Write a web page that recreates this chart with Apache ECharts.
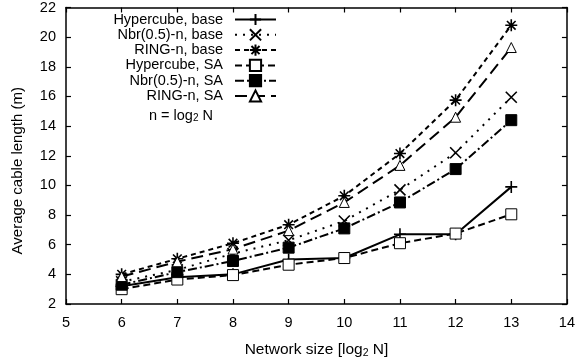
<!DOCTYPE html>
<html>
<head>
<meta charset="utf-8">
<script src="https://cdn.jsdelivr.net/npm/echarts@6/dist/echarts.min.js"></script>
<style>
html,body{margin:0;padding:0;background:#fff;}
#chart{width:578px;height:364px;}
</style>
</head>
<body>
<div id="chart"></div>
<script>
// ---- data ----
var networkSize = [6, 7, 8, 9, 10, 11, 12, 13];
var hypercubeBase = [3.2, 3.8, 4.0, 5.0, 5.1, 6.7, 6.7, 9.9];
var nbrBase = [3.5, 4.3, 5.4, 6.3, 7.6, 9.7, 12.2, 15.95];
var ringBase = [4.0, 5.05, 6.1, 7.35, 9.3, 12.15, 15.75, 20.8];
var hypercubeSA = [3.0, 3.65, 3.95, 4.65, 5.1, 6.1, 6.75, 8.05];
var nbrSA = [3.3, 4.15, 4.9, 5.8, 7.1, 8.85, 11.1, 14.4];
var ringSA = [3.85, 4.85, 5.7, 6.95, 8.85, 11.35, 14.6, 19.3];
var seriesNames = ['Hypercube, base', 'Nbr(0.5)-n, base', 'RING-n, base', 'Hypercube, SA', 'Nbr(0.5)-n, SA', 'RING-n, SA'];

function pairs(ys) { return networkSize.map(function (x, i) { return [x, ys[i]]; }); }

var FONT = 'Liberation Sans';
var PLUS = 'path://M0,-5L0,5M-5,0L5,0';
var CROSS = 'path://M-5,-5L5,5M-5,5L5,-5';
var STAR = 'path://M0,-5L0,5M-5,0L5,0M-3.6,-3.6L3.6,3.6M-3.6,3.6L3.6,-3.6';

function mk(name, ys, symbol, size, dash, fill, bw) {
  return {
    name: name, type: 'line', data: pairs(ys), xAxisIndex: 0, yAxisIndex: 0,
    symbol: symbol, symbolSize: size, showSymbol: true,
    lineStyle: { color: '#000', width: 2, type: dash },
    itemStyle: { color: fill, borderColor: '#000', borderWidth: bw },
    emphasis: { disabled: true }, animation: false
  };
}

var chart = echarts.init(document.getElementById('chart'), null, { renderer: 'canvas' });
var axisTextStyle = { color: '#000', fontFamily: FONT, fontSize: 14.5 };
chart.setOption({
  backgroundColor: '#fff',
  animation: false,
  grid: { left: 66, right: 10, top: 6, bottom: 57 },
  legend: {
    orient: 'vertical', align: 'right',
    right: 296, top: 7,
    itemWidth: 41, itemHeight: 14, itemGap: 0.3,
    data: seriesNames,
    textStyle: { color: '#000', fontFamily: FONT, fontSize: 14.5, padding: [0, 7, 0, 0] },
    selectedMode: false
  },
  graphic: [{
    type: 'text', right: 578 - 213, top: 108,
    style: {
      text: 'n = log{s|2} N', fill: '#000', font: '14.5px "Liberation Sans"',
      rich: { s: { fontSize: 10, fontFamily: FONT, verticalAlign: 'bottom', padding: [6, 0, 0, 0] } }
    }
  }],
  xAxis: [{
    type: 'value', min: 5, max: 14, interval: 1, position: 'bottom',
    name: 'Network size [log{s|2} N]', nameLocation: 'middle', nameGap: 37,
    nameTextStyle: { color: '#000', fontFamily: FONT, fontSize: 15.5,
      rich: { s: { fontSize: 10.5, fontFamily: FONT, padding: [7, 0, 0, 0] } } },
    axisLine: { show: true, lineStyle: { color: '#000', width: 1.5 } },
    axisTick: { show: true, inside: true, length: 5, lineStyle: { color: '#000', width: 1.2 } },
    axisLabel: Object.assign({ margin: 11 }, axisTextStyle),
    splitLine: { show: false }
  }, {
    type: 'value', min: 5, max: 14, interval: 1, position: 'top',
    axisLine: { show: true, lineStyle: { color: '#000', width: 1.5 } },
    axisTick: { show: true, inside: true, length: 5, lineStyle: { color: '#000', width: 1.2 } },
    axisLabel: { show: false }, splitLine: { show: false }
  }],
  yAxis: [{
    type: 'value', min: 2, max: 22, interval: 2, position: 'left',
    name: 'Average cable length (m)', nameLocation: 'middle', nameGap: 41,
    nameTextStyle: { color: '#000', fontFamily: FONT, fontSize: 15, padding: [0, 30, 0, 0] },
    axisLine: { show: true, lineStyle: { color: '#000', width: 1.5 } },
    axisTick: { show: true, inside: true, length: 5, lineStyle: { color: '#000', width: 1.2 } },
    axisLabel: Object.assign({ margin: 10 }, axisTextStyle),
    splitLine: { show: false }
  }, {
    type: 'value', min: 2, max: 22, interval: 2, position: 'right',
    axisLine: { show: true, lineStyle: { color: '#000', width: 1.5 } },
    axisTick: { show: true, inside: true, length: 5, lineStyle: { color: '#000', width: 1.2 } },
    axisLabel: { show: false }, splitLine: { show: false }
  }],
  series: [
    mk(seriesNames[0], hypercubeBase, PLUS, 12, 'solid', '#000', 1.6),
    mk(seriesNames[1], nbrBase, CROSS, 11, [2, 6], '#000', 1.6),
    mk(seriesNames[2], ringBase, STAR, 12, [5, 4], '#000', 1.6),
    mk(seriesNames[3], hypercubeSA, 'rect', 11, [7, 4], '#fff', 1),
    mk(seriesNames[4], nbrSA, 'rect', 11, [9, 3, 2, 3], '#000', 1),
    mk(seriesNames[5], ringSA, 'triangle', 10, [12, 6], '#fff', 1)
  ]
});
</script>
</body>
</html>
